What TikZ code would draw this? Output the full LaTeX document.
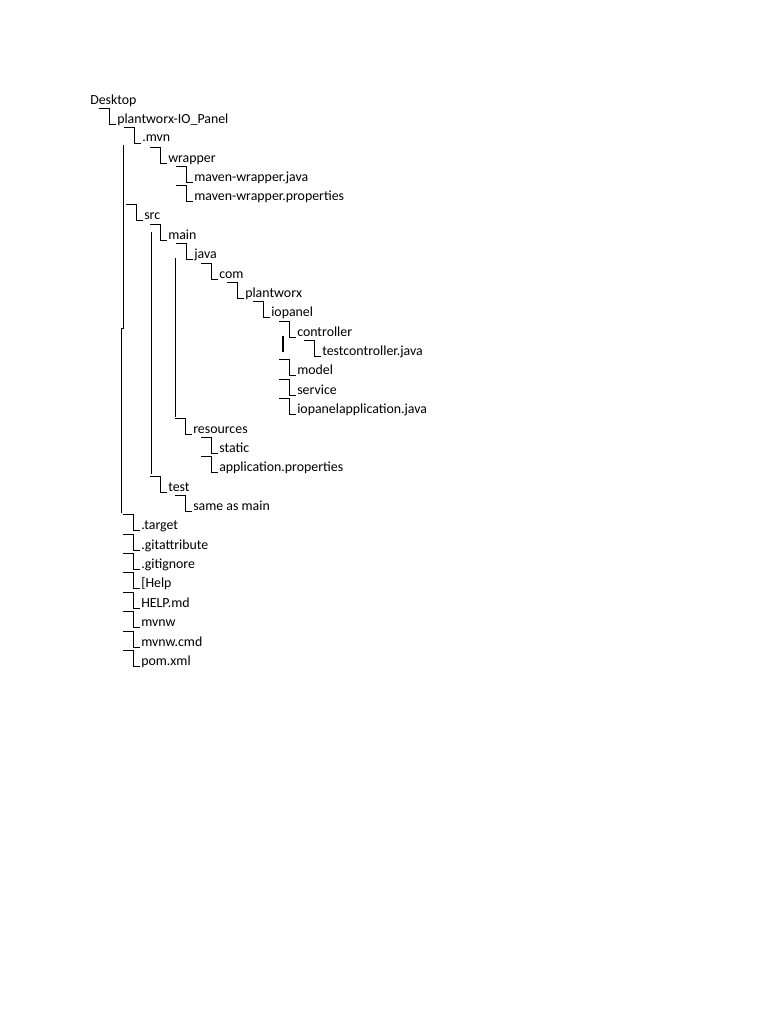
\documentclass[tikz,border=0pt]{standalone}
\usepackage{fontspec}
\setmainfont{Carlito}
\begin{document}
\begin{tikzpicture}[x=0.75pt,y=-0.75pt,
  item/.style={anchor=base west,inner sep=0pt,font=\fontsize{10.4pt}{12pt}\selectfont},
  conn/.style={line width=0.65pt}]
\useasboundingbox (0,0) rectangle (768,1024);
\foreach \n/\t/\x/\y in {
 d/Desktop/90/99, a1/plantworx-IO\_Panel/117/118, a2/.mvn/142/137, a3/wrapper/168/157,
 a4/maven-wrapper.java/194/176, a5/maven-wrapper.properties/194/195,
 a6/src/144/214, a7/main/168/234, a8/java/194/253, a9/com/219/273, a10/plantworx/245/292,
 a11/iopanel/271/311, a12/controller/297/331, a13/testcontroller.java/322/350,
 a14/model/297/369, a15/service/297/389, a16/iopanelapplication.java/297/408,
 a17/resources/193/428, a18/static/219/447, a19/application.properties/219/466,
 a20/test/168/486, a21/same as main/193/505,
 a22/.target/141/524, a23/.gitattribute/141/544, a24/.gitignore/141/563, a25/{[Help}/141/582,
 a26/HELP.md/141/602, a27/mvnw/141/621, a28/mvnw.cmd/141/641, a29/pom.xml/141/660}
 {\node[item] (\n) at (\x,\y+5) {\t};}
\foreach \n in {a1,a2,a3,a4,a5,a6,a7,a8,a9,a10,a11,a12,a13,a14,a15,a16,a17,a18,a19,a20,a21,a22,a23,a24,a25,a26,a27,a28,a29}
 \draw[conn] ([xshift=-13.5pt,yshift=11pt]\n.base west) -- ([xshift=-6pt,yshift=11pt]\n.base west)
   -- ([xshift=-6pt,yshift=-0.75pt]\n.base west) -- ([xshift=-0.75pt,yshift=-0.75pt]\n.base west);
% long verticals
\coordinate (v1a) at (123,145); \coordinate (v1b) at (123,328);
\coordinate (v1c) at (121,328); \coordinate (v1d) at (121,513);
\draw[conn] (v1a) -- (v1b) -- (v1c) -- (v1d);
\coordinate (v2a) at (151,232); \coordinate (v2b) at (151,474);
\draw[conn] (v2a) -- (v2b);
\coordinate (v3a) at (175,258); \coordinate (v3b) at (175,417);
\draw[conn] (v3a) -- (v3b);
\coordinate (m1) at (283,336); \coordinate (m2) at (283,352);
\draw[line width=1.6pt] (m1) -- (m2);
\end{tikzpicture}
\end{document}
